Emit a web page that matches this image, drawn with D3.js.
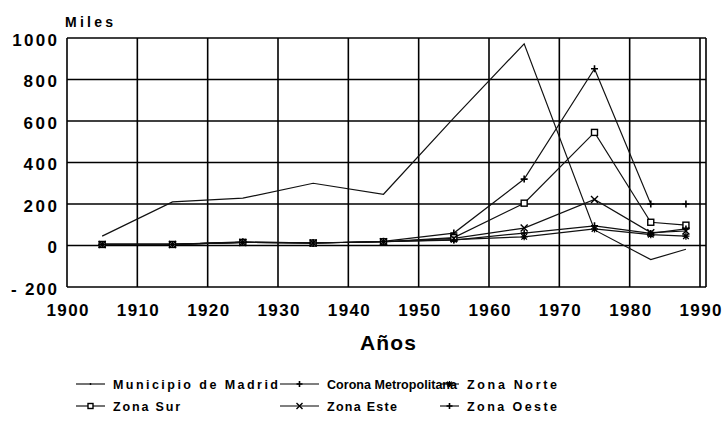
<!DOCTYPE html>
<html><head><meta charset="utf-8">
<script src="https://cdn.jsdelivr.net/npm/d3@7/dist/d3.min.js"></script>
<style>
html,body{margin:0;padding:0;background:#fff;}
svg text{font-family:"Liberation Sans",Arial,Helvetica,sans-serif;font-weight:bold;fill:#000;}
</style></head>
<body>
<svg id="chart" width="724" height="423"></svg>
<script>
// ---- data ----
const years = [1905, 1915, 1925, 1935, 1945, 1955, 1965, 1975, 1983, 1988];
const madrid = [45, 210, 228, 300, 247, 615, 972, 75, -68, -18];
const corona = [5, 5, 18, 12, 20, 60, 320, 852, 200, 200];
const norte  = [5, 5, 15, 12, 18, 28, 42, 80, 52, 45];
const sur    = [5, 5, 15, 12, 18, 38, 204, 545, 112, 98];
const este   = [5, 5, 15, 12, 18, 34, 84, 222, 62, 70];
const oeste  = [5, 5, 15, 12, 18, 26, 60, 95, 58, 80];
const seriesNames = ["Municipio de Madrid", "Corona Metropolitana", "Zona Norte", "Zona Sur", "Zona Este", "Zona Oeste"];
const xTicks = [1900, 1910, 1920, 1930, 1940, 1950, 1960, 1970, 1980, 1990];
const yTicks = [-200, 0, 200, 400, 600, 800, 1000];
const yTickLabels = ["- 200", "0", "200", "400", "600", "800", "1000"];

const series = [
  {name: seriesNames[0], values: madrid, marker: "dot"},
  {name: seriesNames[1], values: corona, marker: "plus"},
  {name: seriesNames[2], values: norte,  marker: "star"},
  {name: seriesNames[3], values: sur,    marker: "square"},
  {name: seriesNames[4], values: este,   marker: "cross"},
  {name: seriesNames[5], values: oeste,  marker: "plus"}
];

const svg = d3.select("#chart");
const x = d3.scaleLinear().domain([1900, 1990]).range([67, 700]);
const y = d3.scaleLinear().domain([-200, 1000]).range([287, 38]);

// grid
const g = svg.append("g");
g.selectAll("line.v").data(xTicks).join("line")
  .attr("x1", d => x(d)).attr("x2", d => x(d))
  .attr("y1", y(1000)).attr("y2", y(-200))
  .attr("stroke", "#000").attr("stroke-width", 1.6);
g.selectAll("line.h").data(yTicks).join("line")
  .attr("x1", x(1900)).attr("x2", x(1990) + 6)
  .attr("y1", d => y(d)).attr("y2", d => y(d))
  .attr("stroke", "#000").attr("stroke-width", 1.6);
g.append("line").attr("x1", x(1990) + 6).attr("x2", x(1990) + 6)
  .attr("y1", y(1000)).attr("y2", y(-200)).attr("stroke", "#000").attr("stroke-width", 1.6);

const tickFont = sel => sel.style("font-size", "17px")
  .style("font-family", '"Liberation Sans",Arial,sans-serif').style("font-weight", "bold")
  .attr("fill", "#000").attr("lengthAdjust", "spacing");

// axes labels via d3 axes (hide domain/ticks)
const xAxis = d3.axisBottom(x).tickValues(xTicks).tickFormat(d3.format("d")).tickSize(0).tickPadding(0);
const xa = svg.append("g").attr("transform", `translate(0,${y(-200)})`).call(xAxis);
xa.select(".domain").remove();
xa.selectAll("text").attr("dy", null).attr("y", 29).call(tickFont).attr("textLength", 42);

const yAxis = d3.axisLeft(y).tickValues(yTicks).tickFormat((d, i) => yTickLabels[i]).tickSize(0).tickPadding(0);
const ya = svg.append("g").attr("transform", `translate(57,0)`).call(yAxis);
ya.select(".domain").remove();
ya.selectAll("text").attr("dy", null).attr("y", 7).attr("x", 0).call(tickFont)
  .attr("textLength", (d, i) => { const t = yTickLabels[i]; return t === "- 200" ? 46 : t.length * 11.2; });

svg.append("text").attr("x", 65).attr("y", 27).style("font-size", "14px")
  .attr("textLength", 48).attr("lengthAdjust", "spacing").text("Miles");
svg.append("text").attr("x", 388).attr("y", 350).attr("text-anchor", "middle").style("font-size", "21px")
  .attr("textLength", 56).attr("lengthAdjust", "spacing").text("Años");

// markers
function drawMarker(sel, type, cx, cy, s) {
  if (type === "square") {
    sel.append("rect").attr("x", cx - s).attr("y", cy - s).attr("width", 2 * s).attr("height", 2 * s)
      .attr("fill", "#fff").attr("stroke", "#000").attr("stroke-width", 1.4);
  } else if (type === "cross") {
    sel.append("path").attr("d", `M${cx - s},${cy - s}L${cx + s},${cy + s}M${cx - s},${cy + s}L${cx + s},${cy - s}`)
      .attr("stroke", "#000").attr("stroke-width", 1.4);
  } else if (type === "plus") {
    sel.append("path").attr("d", `M${cx - s},${cy}L${cx + s},${cy}M${cx},${cy - s}L${cx},${cy + s}`)
      .attr("stroke", "#000").attr("stroke-width", 1.6);
  } else if (type === "star") {
    const r = s * 0.8;
    sel.append("path").attr("d", `M${cx - s},${cy}L${cx + s},${cy}M${cx},${cy - s}L${cx},${cy + s}M${cx - r},${cy - r}L${cx + r},${cy + r}M${cx - r},${cy + r}L${cx + r},${cy - r}`)
      .attr("stroke", "#000").attr("stroke-width", 1.3);
  } else if (type === "dot") {
    sel.append("circle").attr("cx", cx).attr("cy", cy).attr("r", 0.9).attr("fill", "#000");
  }
}

const line = d3.line().x(d => x(d[0])).y(d => y(d[1]));
const lg = svg.append("g");
series.forEach(s => {
  const pts = years.map((yr, i) => [yr, s.values[i]]);
  lg.append("path").attr("d", line(pts)).attr("fill", "none").attr("stroke", "#111")
    .attr("stroke-width", 1.2);
});
const mg = svg.append("g");
series.forEach(s => {
  if (s.marker === "dot") return;
  years.forEach((yr, i) => {
    drawMarker(mg, s.marker, x(yr), y(s.values[i]), s.marker === "square" ? 3 : 3.5);
  });
});

// legend
const legendCols = [{mx: 76, tx: 113, tl: [165, 67]}, {mx: 280, tx: 327, tl: [130, 70]}, {mx: 440, tx: 467, tl: [90, 90]}];
const rowsY = [384, 406];
series.forEach((s, i) => {
  const col = legendCols[i % 3];
  const row = i < 3 ? 0 : 1;
  const cy = rowsY[row];
  const lgx = svg.append("g");
  const x0 = col.mx, x1 = col.tx - 8;
  lgx.append("line").attr("x1", x0).attr("x2", x1).attr("y1", cy).attr("y2", cy)
    .attr("stroke", "#000").attr("stroke-width", 1.1);
  drawMarker(lgx, s.marker, (x0 + x1) / 2, cy, s.marker === "square" ? 2.5 : 3);
  lgx.append("text").attr("x", col.tx).attr("y", cy + 5)
    .attr("textLength", col.tl[row]).attr("lengthAdjust", "spacing")
    .style("font-size", "12.5px").text(s.name);
});
</script>
</body></html>
